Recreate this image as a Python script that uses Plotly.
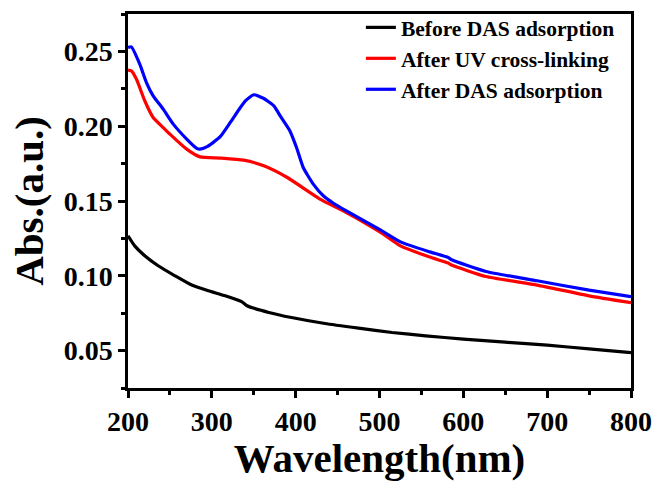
import plotly.graph_objects as go

# Wavelength (nm) and absorbance values
wl_black = [200, 208, 220, 236, 256, 276, 296, 316, 336, 342, 368, 395, 435, 475, 515, 555, 600, 650, 700, 750, 800]
abs_black = [0.1267, 0.1200, 0.1134, 0.1067, 0.1000, 0.0938, 0.0900, 0.0866, 0.0826, 0.0800, 0.0755, 0.0721, 0.0681, 0.0650, 0.0621, 0.0599, 0.0577, 0.0556, 0.0536, 0.0512, 0.0487]

wl_red = [200, 204, 210, 220, 230, 242, 250, 270, 286, 310, 338, 362, 390, 429, 460, 500, 525, 560, 582, 586, 627, 688, 750, 800]
abs_red = [0.2375, 0.2370, 0.2315, 0.2170, 0.2058, 0.1991, 0.1947, 0.1847, 0.1795, 0.1787, 0.1773, 0.1735, 0.1657, 0.1513, 0.1425, 0.1295, 0.1200, 0.1125, 0.1085, 0.1072, 0.0995, 0.0938, 0.0866, 0.0820]

wl_blue = [200, 204, 214, 222, 230, 242, 254, 270, 282, 286, 295, 310, 322, 334, 340, 350, 362, 374, 382, 393, 401, 409, 421, 433, 445, 460, 500, 525, 560, 582, 586, 627, 688, 750, 800]
abs_blue = [0.2526, 0.2530, 0.2415, 0.2292, 0.2203, 0.2114, 0.2014, 0.1914, 0.1852, 0.1847, 0.1865, 0.1930, 0.2025, 0.2125, 0.2170, 0.2210, 0.2185, 0.2136, 0.2065, 0.1970, 0.1858, 0.1724, 0.1613, 0.1535, 0.1485, 0.1435, 0.1310, 0.1227, 0.1160, 0.1122, 0.1107, 0.1029, 0.0967, 0.0904, 0.0860]

names = ["Before DAS adsorption", "After UV cross-linking", "After DAS adsorption"]
colors = ["#000000", "#ff0000", "#0000ff"]

x_ticks = [200, 300, 400, 500, 600, 700, 800]
y_ticks = [0.05, 0.10, 0.15, 0.20, 0.25]

fig = go.Figure()
for wl, ab, nm, c in zip([wl_black, wl_red, wl_blue], [abs_black, abs_red, abs_blue], names, colors):
    fig.add_trace(go.Scatter(x=wl, y=ab, mode="lines", name=nm,
                             line=dict(color=c, width=3.2, shape="spline", smoothing=0.5)))

font_family = "Liberation Serif"
fig.update_layout(
    width=657, height=481,
    margin=dict(l=128, r=26, t=14, b=93, autoexpand=False),
    paper_bgcolor="white", plot_bgcolor="white",
    font=dict(family=font_family, color="black", weight="bold"),
    showlegend=True,
    legend=dict(x=0.463, y=1.019, xanchor="left", yanchor="top",
                bgcolor="rgba(0,0,0,0)", font=dict(size=21.5, family=font_family, weight="bold"),
                tracegroupgap=0),
    xaxis=dict(range=[200, 800], tickvals=x_ticks, ticktext=[str(v) for v in x_ticks],
               showline=True, linecolor="black", linewidth=2.5, mirror=True, automargin=False,
               ticks="outside", ticklen=7, tickwidth=2.5, tickcolor="black",
               minor=dict(ticks="outside", ticklen=4, tickwidth=2.5, tickcolor="black", dtick=50),
               showgrid=False, zeroline=False,
               tickfont=dict(size=28, family=font_family, weight="bold"),
               title=dict(text="Wavelength(nm)", font=dict(size=41, family=font_family, weight="bold"), standoff=4)),
    yaxis=dict(range=[0.025, 0.275], tickvals=y_ticks, ticktext=["%.2f" % v for v in y_ticks],
               showline=True, linecolor="black", linewidth=2.5, mirror=True, automargin=False,
               ticks="outside", ticklen=7, tickwidth=2.5, tickcolor="black",
               minor=dict(ticks="outside", ticklen=4, tickwidth=2.5, tickcolor="black", dtick=0.025),
               showgrid=False, zeroline=False,
               tickfont=dict(size=28, family=font_family, weight="bold"),
               title=dict(text="Abs.(a.u.)", font=dict(size=41, family=font_family, weight="bold"), standoff=8)),
)

fig.write_html("out.html")
